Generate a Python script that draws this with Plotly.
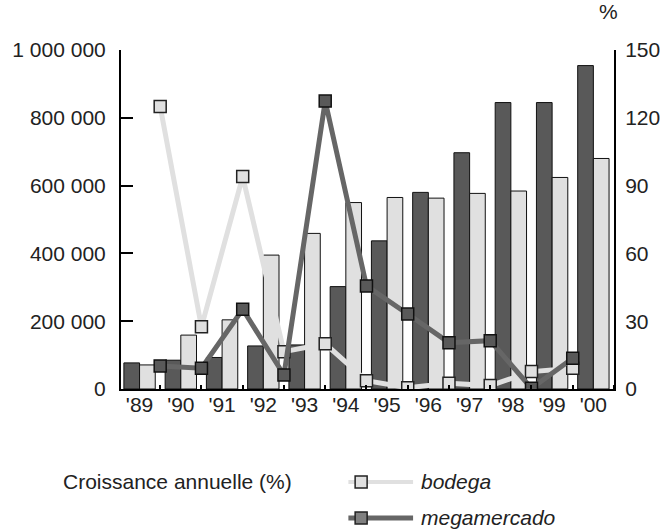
import numpy as np
import plotly.graph_objects as go

years = ["'89", "'90", "'91", "'92", "'93", "'94", "'95", "'96", "'97", "'98", "'99", "'00"]
megamercado_units = [77000, 85000, 93000, 127000, 130000, 302000, 437000, 580000, 697000, 845000, 845000, 954000]
bodega_units = [71000, 159000, 204000, 395000, 459000, 550000, 565000, 563000, 577000, 584000, 624000, 680000]

# annual growth (%) between consecutive years
bodega_growth = [125, 27.5, 94, 16.5, 20, 3.7, 0.6, 2.5, 1.5, 7.7, 9.2]
mega_growth = [10.2, 9.2, 35.3, 6.2, 127.4, 45.6, 33.2, 20.5, 21.4, 0.3, 13.6]

left_ticks = [0, 200000, 400000, 600000, 800000, 1000000]
left_ticktext = ["0", "200 000", "400 000", "600 000", "800 000", "1 000 000"]
right_ticks = [0, 30, 60, 90, 120, 150]

DARK = "#595959"
LIGHT = "#e0e0e0"
MEGA_LINE = "#666666"
FONT = "Liberation Sans, Arial, sans-serif"
FS = 21

x_bars = np.arange(len(years))
x_growth = np.arange(len(bodega_growth)) + 0.5

fig = go.Figure()
fig.add_trace(go.Bar(x=x_bars, y=megamercado_units, marker=dict(color=DARK, line=dict(color="#111", width=1)),
                     showlegend=False))
fig.add_trace(go.Bar(x=x_bars, y=bodega_units, marker=dict(color=LIGHT, line=dict(color="#111", width=1)),
                     showlegend=False))
fig.add_trace(go.Scatter(x=x_growth, y=bodega_growth, yaxis="y2", mode="lines+markers",
                         line=dict(color=LIGHT, width=5),
                         marker=dict(symbol="square", size=12, color=LIGHT, line=dict(color="#222", width=1.5)),
                         showlegend=False))
fig.add_trace(go.Scatter(x=x_growth, y=mega_growth, yaxis="y2", mode="lines+markers",
                         line=dict(color=MEGA_LINE, width=5),
                         marker=dict(symbol="square", size=12, color=DARK, line=dict(color="#111", width=1.5)),
                         showlegend=False))

L, R, T, B = 115, 54, 50, 142
W, H = 672, 531
pw, ph = W - L - R, H - T - B


def px(xp):
    return (xp - L) / pw


def py(yp):
    return (H - B - yp) / ph


shapes = []
annotations = []
# legend
annotations.append(dict(x=px(54), y=py(481), xref="paper", yref="paper", text="Croissance annuelle (%)",
                        showarrow=False, xanchor="left", yanchor="middle", font=dict(size=FS, color="#222")))
for name, ly, lcol, mfill, lw in [("bodega", 482, LIGHT, LIGHT, 4), ("megamercado", 518, MEGA_LINE, "#808080", 5)]:
    shapes.append(dict(type="line", xref="paper", yref="paper", x0=px(347), x1=px(413), y0=py(ly), y1=py(ly),
                       line=dict(color=lcol, width=lw)))
    shapes.append(dict(type="rect", xref="paper", yref="paper", xsizemode="pixel", ysizemode="pixel",
                       xanchor=px(360), yanchor=py(ly), x0=-6, x1=6, y0=-6, y1=6,
                       fillcolor=mfill, line=dict(color="#222", width=1.5)))
    annotations.append(dict(x=px(419), y=py(ly - 1), xref="paper", yref="paper", text="<i>%s</i>" % name,
                            showarrow=False, xanchor="left", yanchor="middle", font=dict(size=FS, color="#222")))

annotations.append(dict(x=px(612), y=py(12), xref="paper", yref="paper", text="%", showarrow=False,
                        xanchor="center", yanchor="middle", font=dict(size=FS, color="#222")))

fig.update_layout(
    width=W, height=H, margin=dict(l=L, r=R, t=T, b=B, pad=0),
    paper_bgcolor="white", plot_bgcolor="white",
    font=dict(family=FONT, size=FS, color="#222"),
    barmode="group", bargap=0.24, bargroupgap=0,
    xaxis=dict(range=[-0.45, 11.5], tickvals=list(x_bars), ticktext=years, showgrid=False, zeroline=False,
               showline=True, linecolor="black", linewidth=2, ticks="", ticklabelstandoff=-4,
               minor=dict(ticks="inside", tick0=0.5, dtick=1, ticklen=4, tickcolor="black", tickwidth=2)),
    yaxis=dict(range=[0, 1000000], tickvals=left_ticks, ticktext=left_ticktext, showgrid=False, zeroline=False,
               showline=True, linecolor="black", linewidth=2, ticks="inside", ticklen=12, tickwidth=2,
               tickcolor="black", ticklabelstandoff=9),
    yaxis2=dict(range=[0, 150], tickvals=right_ticks, overlaying="y", side="right", showgrid=False,
                zeroline=False, showline=True, linecolor="black", linewidth=2, ticks="", ticklabelstandoff=5),
    shapes=shapes, annotations=annotations,
)

fig.write_html("out.html", config={"displayModeBar": False},
               post_script="document.body.style.margin='0';document.body.style.padding='0';")
